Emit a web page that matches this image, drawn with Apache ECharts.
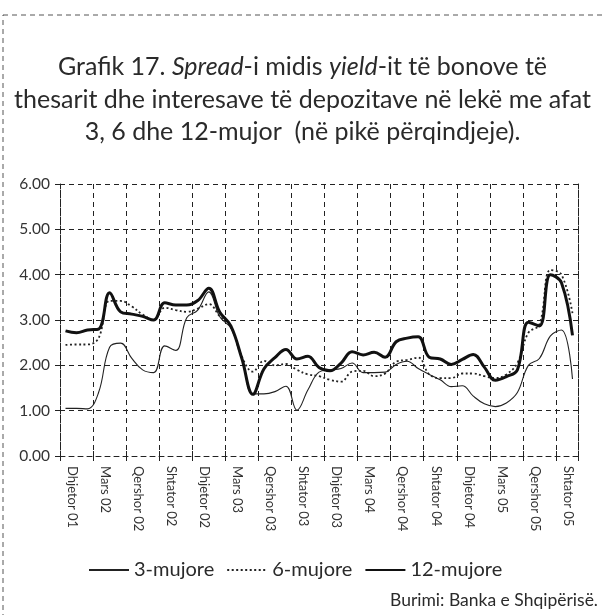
<!DOCTYPE html>
<html>
<head>
<meta charset="utf-8">
<script src="https://cdn.jsdelivr.net/npm/echarts@6/dist/echarts.min.js"></script>
<style>
html,body{margin:0;padding:0;background:#fff;}
#chart{width:605px;height:615px;}
</style>
</head>
<body>
<div id="chart"></div>
<script>
const months = ["Dhjetor 01","Janar 02","Shkurt 02","Mars 02","Prill 02","Maj 02","Qershor 02","Korrik 02","Gusht 02","Shtator 02","Tetor 02","Nëntor 02",
"Dhjetor 02","Janar 03","Shkurt 03","Mars 03","Prill 03","Maj 03","Qershor 03","Korrik 03","Gusht 03","Shtator 03","Tetor 03","Nëntor 03",
"Dhjetor 03","Janar 04","Shkurt 04","Mars 04","Prill 04","Maj 04","Qershor 04","Korrik 04","Gusht 04","Shtator 04","Tetor 04","Nëntor 04",
"Dhjetor 04","Janar 05","Shkurt 05","Mars 05","Prill 05","Maj 05","Qershor 05","Korrik 05","Gusht 05","Shtator 05","Tetor 05"];

const spread3 = [1.05,1.05,1.04,1.4,2.4,2.49,2.16,1.9,1.84,2.43,2.33,3.05,3.22,3.62,3.07,2.82,2.19,1.37,1.37,1.42,1.54,1.01,1.46,1.85,1.90,1.93,2.05,1.84,1.84,1.85,2.02,2.09,1.93,1.8,1.68,1.53,1.55,1.32,1.15,1.09,1.17,1.4,2.0,2.15,2.65,2.78,1.7];
const spread6 = [2.45,2.46,2.46,2.6,3.42,3.42,3.3,3.12,3.0,3.27,3.22,3.18,3.25,3.35,3.08,2.85,2.19,1.86,2.1,2.0,2.03,1.9,1.8,1.76,1.68,1.64,1.86,1.88,1.76,1.82,2.08,2.12,2.17,1.80,1.72,1.72,1.82,1.82,1.76,1.72,1.8,2.05,2.72,2.9,4.1,4.0,3.15];
const spread12 = [2.76,2.72,2.78,2.8,3.6,3.18,3.13,3.08,3.0,3.38,3.33,3.33,3.43,3.70,3.17,2.87,2.15,1.36,1.92,2.17,2.35,2.14,2.2,1.95,1.88,2.05,2.30,2.23,2.29,2.18,2.52,2.60,2.63,2.18,2.14,2.02,2.13,2.24,1.96,1.67,1.75,1.9,2.95,2.87,4.0,3.82,2.66];

const seriesNames = ["3-mujore","6-mujore","12-mujore"];
const yTicks = {min:0, max:6, interval:1};

const FONT = "Lato";
const INK = "#222";
const TXT = "#2a2a2a";
const dash = [5,4];

const chart = echarts.init(document.getElementById('chart'), null, {renderer:'canvas'});
chart.setOption({
  backgroundColor:'#fff',
  animation:false,
  title:{
    left:'center', top:51, padding:0,
    text:"Grafik 17. {i|Spread}-i midis {i|yield}-it të bonove të\nthesarit dhe interesave të depozitave në lekë me afat\n3, 6 dhe 12-mujor  (në pikë përqindjeje).",
    textStyle:{
      fontFamily:FONT, fontSize:25, fontWeight:'normal', color:TXT, lineHeight:32.5,
      rich:{ i:{fontFamily:FONT, fontSize:25, fontStyle:'italic', color:TXT, lineHeight:32.5} }
    }
  },
  graphic:[
    {type:'rect', silent:true, shape:{x:3, y:15, width:700, height:700},
     style:{fill:'none', stroke:'#555', lineWidth:1, lineDash:[5,4]}},
    {type:'text', right:7, top:591, style:{text:'Burimi: Banka e Shqipërisë.', fontFamily:FONT, fontSize:17.5, fill:TXT}}
  ],
  legend:{
    top:560, left:88, padding:0,
    itemWidth:40, itemHeight:12, itemGap:12,
    itemStyle:{opacity:0},
    textStyle:{fontFamily:FONT, fontSize:20, color:TXT},
    data:seriesNames
  },
  grid:{left:60, right:27, top:184, bottom:159, containLabel:false},
  xAxis:[
    {type:'category', data:months, boundaryGap:true,
     axisLine:{show:true, lineStyle:{color:INK, type:dash, width:1}},
     axisTick:{show:true, interval:2, length:5, lineStyle:{color:INK}},
     axisLabel:{interval:2, rotate:-90, margin:10, verticalAlign:'bottom', fontFamily:FONT, fontSize:13, color:'#333'},
     splitLine:{show:true, interval:2, lineStyle:{color:INK, type:dash, width:1}}
    },
    {type:'category', data:months, boundaryGap:true, position:'bottom',
     axisLine:{show:false},
     axisTick:{show:true, interval:2, inside:true, length:5, lineStyle:{color:INK}},
     axisLabel:{show:false}, splitLine:{show:false}
    }
  ],
  yAxis:[
    {type:'value', min:yTicks.min, max:yTicks.max, interval:yTicks.interval, position:'left',
     axisLine:{show:true, lineStyle:{color:INK, type:dash, width:1}},
     axisTick:{show:true, length:5, lineStyle:{color:INK}},
     axisLabel:{margin:10, fontFamily:FONT, fontSize:15.5, color:'#333', formatter:v=>v.toFixed(2)},
     splitLine:{show:true, lineStyle:{color:INK, type:dash, width:1}}
    },
    {type:'value', min:yTicks.min, max:yTicks.max, interval:yTicks.interval, position:'left',
     axisLine:{show:false},
     axisTick:{show:true, inside:true, length:5, lineStyle:{color:INK}},
     axisLabel:{show:false}, splitLine:{show:false}
    },
    {type:'value', min:yTicks.min, max:yTicks.max, interval:yTicks.interval, position:'right',
     axisLine:{show:true, lineStyle:{color:INK, type:dash, width:1}},
     axisTick:{show:false}, axisLabel:{show:false}, splitLine:{show:false}
    }
  ],
  series:[
    {name:seriesNames[0], type:'line', data:spread3, symbol:'none', smooth:0.4,
     lineStyle:{color:INK, width:1.1, type:'solid'}, itemStyle:{color:INK}},
    {name:seriesNames[1], type:'line', data:spread6, symbol:'none', smooth:0.4,
     lineStyle:{color:INK, width:1.8, type:[2,2.5]}, itemStyle:{color:INK}},
    {name:seriesNames[2], type:'line', data:spread12, symbol:'none', smooth:0.4,
     lineStyle:{color:'#111', width:3, type:'solid'}, itemStyle:{color:'#111'}}
  ]
});
</script>
</body>
</html>
